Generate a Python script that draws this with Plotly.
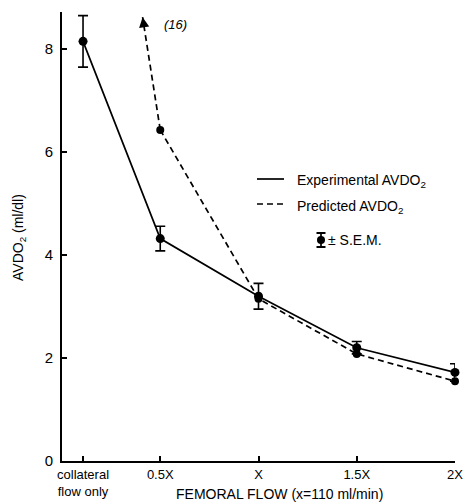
import plotly.graph_objects as go

# ---- data ----
categories = ["collateral<br>flow only", "0.5X", "X", "1.5X", "2X"]
flow_x = [0.107, 0.5, 1.0, 1.5, 2.0]          # position on the femoral-flow axis (multiples of x)
experimental = [8.15, 4.32, 3.20, 2.20, 1.72]
experimental_sem = [0.50, 0.24, 0.25, 0.12, 0.17]
predicted = [16.0, 6.43, 3.15, 2.08, 1.55]      # first value is off scale (16)
y_ticks = [0, 2, 4, 6, 8]

# ---- layout constants (pixels) ----
W, H = 467, 504
L, R, T, B = 62, 12, 12, 43
X_RANGE = [0, 2.0]
Y_RANGE = [0, 8.72]
ARROW_TIP_Y = 8.62
FONT = "Liberation Sans, Arial, sans-serif"

pw, ph = W - L - R, H - T - B
def px(x):
    return (x - L) / pw
def py(y):
    return (H - B - y) / ph

fig = go.Figure()

# Experimental: solid line with SEM bars
fig.add_trace(go.Scatter(
    x=flow_x, y=experimental, mode="lines+markers",
    line=dict(color="black", width=1.7),
    marker=dict(color="black", size=9),
    error_y=dict(type="data", array=experimental_sem, visible=True,
                 color="black", thickness=1.6, width=5),
    cliponaxis=False, showlegend=False,
))

# Predicted: dashed line (on-scale points)
fig.add_trace(go.Scatter(
    x=flow_x[1:], y=predicted[1:], mode="lines+markers",
    line=dict(color="black", width=1.7, dash="6px,4px"),
    marker=dict(color="black", size=8),
    cliponaxis=False, showlegend=False,
))

# Off-scale predicted segment toward the collateral value (16), drawn up to the arrow tip
x0, y0 = flow_x[1], predicted[1]
x1, y1 = flow_x[0], predicted[0]
frac = (ARROW_TIP_Y - y0) / (y1 - y0)
tip_x = x0 + frac * (x1 - x0)
fig.add_trace(go.Scatter(
    x=[x0, tip_x], y=[y0, ARROW_TIP_Y], mode="lines",
    line=dict(color="black", width=1.7, dash="6px,4px"),
    cliponaxis=False, showlegend=False,
))
back = 0.2
fig.add_annotation(
    x=tip_x, y=ARROW_TIP_Y,
    ax=x0 + (ARROW_TIP_Y - back - y0) / (y1 - y0) * (x1 - x0), ay=ARROW_TIP_Y - back,
    axref="x", ayref="y", xref="x", yref="y",
    showarrow=True, arrowhead=2, arrowsize=1.2, arrowwidth=1.7,
    arrowcolor="black", text="",
)
fig.add_annotation(
    x=tip_x + 0.1, y=ARROW_TIP_Y - 0.15, xref="x", yref="y",
    text="<i>(16)</i>", showarrow=False, xanchor="left",
    font=dict(family=FONT, size=13, color="black"),
)

# ---- legend drawn by hand ----
legend_font = dict(family=FONT, size=14, color="black")
fig.add_shape(type="line", xref="paper", yref="paper",
              x0=px(257), x1=px(284), y0=py(179), y1=py(179),
              line=dict(color="black", width=1.7))
fig.add_shape(type="line", xref="paper", yref="paper",
              x0=px(257), x1=px(287), y0=py(204), y1=py(204),
              line=dict(color="black", width=1.7, dash="6px,4px"))
fig.add_annotation(xref="paper", yref="paper", x=px(295), y=py(181),
                   text="Experimental AVDO<sub>2</sub>", showarrow=False,
                   xanchor="left", yanchor="middle", font=legend_font)
fig.add_annotation(xref="paper", yref="paper", x=px(295), y=py(207),
                   text="Predicted AVDO<sub>2</sub>", showarrow=False,
                   xanchor="left", yanchor="middle", font=legend_font)
# SEM symbol
cx, top, bot = 321, 233, 247
fig.add_shape(type="line", xref="paper", yref="paper",
              x0=px(cx), x1=px(cx), y0=py(top), y1=py(bot),
              line=dict(color="black", width=1.7))
for yy in (top, bot):
    fig.add_shape(type="line", xref="paper", yref="paper",
                  x0=px(cx - 4.5), x1=px(cx + 4.5), y0=py(yy), y1=py(yy),
                  line=dict(color="black", width=2))
fig.add_shape(type="circle", xref="paper", yref="paper",
              x0=px(cx - 4), x1=px(cx + 4), y0=py(244), y1=py(236),
              fillcolor="black", line=dict(color="black", width=0))
fig.add_annotation(xref="paper", yref="paper", x=px(326), y=py(240),
                   text="± S.E.M.", showarrow=False,
                   xanchor="left", yanchor="middle", font=legend_font)

# axis titles placed as annotations
fig.add_annotation(xref="paper", yref="paper", x=px(279), y=py(494),
                   text="FEMORAL FLOW (x=110 ml/min)", showarrow=False,
                   xanchor="center", yanchor="middle",
                   font=dict(family=FONT, size=14, color="black"))
fig.add_annotation(xref="paper", yref="paper", x=px(19), y=py(238),
                   text="AVDO<sub>2</sub> (ml/dl)", showarrow=False, textangle=-90,
                   xanchor="center", yanchor="middle",
                   font=dict(family=FONT, size=14, color="black"))

fig.update_layout(
    width=W, height=H,
    margin=dict(l=L, r=R, t=T, b=B),
    paper_bgcolor="white", plot_bgcolor="white",
    font=dict(family=FONT, size=13, color="black"),
    showlegend=False,
)
fig.update_xaxes(
    range=X_RANGE, tickvals=flow_x, ticktext=categories,
    showgrid=False, zeroline=False, automargin=False,
    showline=True, linecolor="black", linewidth=2,
    ticks="inside", ticklen=5, tickwidth=1.5, tickcolor="black",
    tickfont=dict(family=FONT, size=13, color="black"),
)
fig.update_yaxes(
    range=Y_RANGE, tickvals=y_ticks,
    showgrid=False, zeroline=False, automargin=False,
    showline=True, linecolor="black", linewidth=2,
    ticks="inside", ticklen=5, tickwidth=1.5, tickcolor="black",
    tickfont=dict(family=FONT, size=15, color="black"),
    ticklabelstandoff=4,
)

fig.write_html(
    "out.html",
    config={"displayModeBar": False},
    post_script="document.body.style.margin='0';document.body.style.padding='0';"
                "document.documentElement.style.overflow='hidden';",
)
